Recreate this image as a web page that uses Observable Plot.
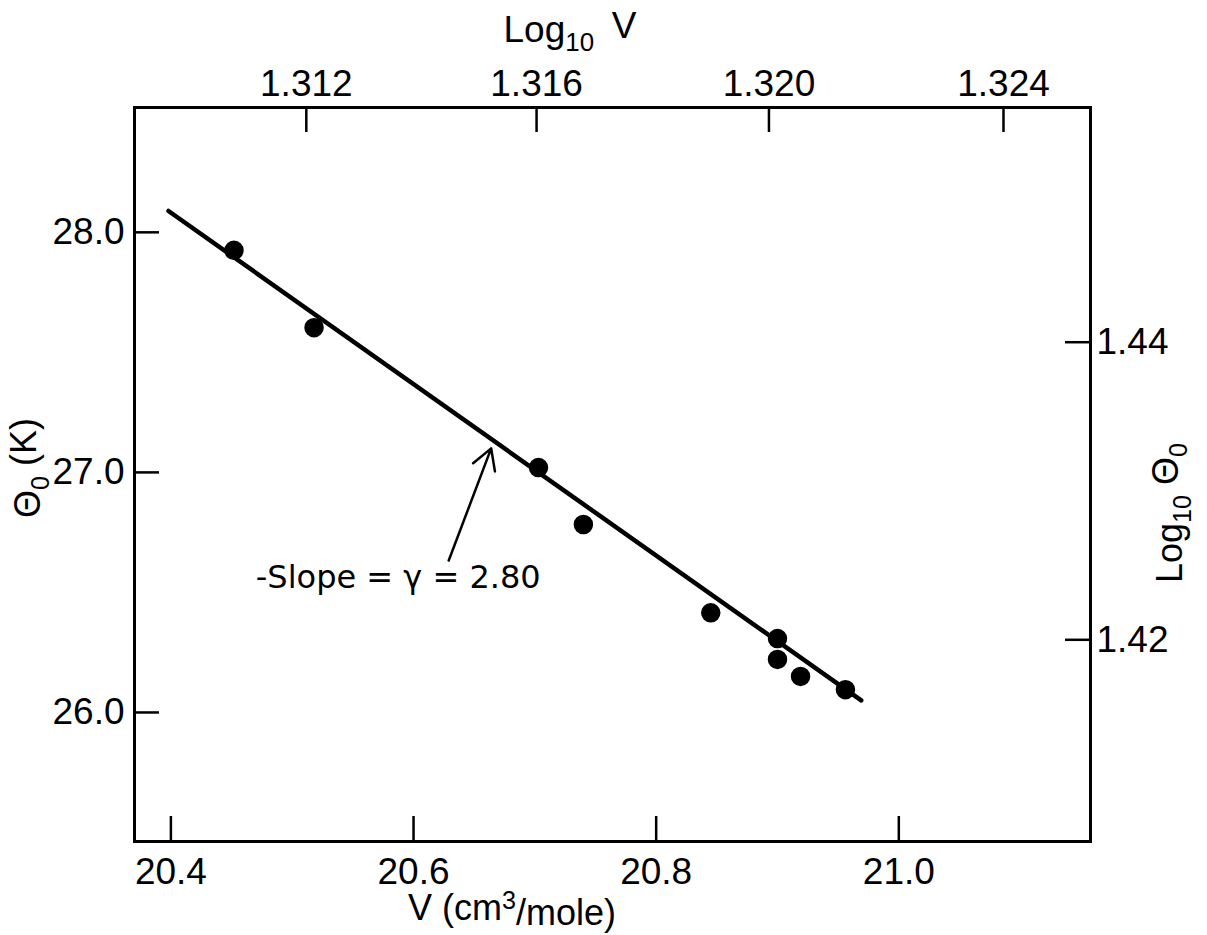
<!DOCTYPE html>
<html>
<head>
<meta charset="utf-8">
<script src="https://cdn.jsdelivr.net/npm/d3@7"></script>
<script src="https://cdn.jsdelivr.net/npm/@observablehq/plot@0.6"></script>
<style>
  html, body { margin: 0; padding: 0; background: white; }
  #chart svg { display: block; }
</style>
</head>
<body>
<div id="chart"></div>
<script>
// Measured points: molar volume V (cm^3/mole) and Debye temperature Θ0 (K)
const volume = [20.452, 20.518, 20.703, 20.740, 20.845, 20.900, 20.900, 20.919, 20.956];
const theta0 = [27.925, 27.603, 27.020, 26.783, 26.415, 26.308, 26.221, 26.150, 26.095];

// Fitted straight line (end points)
const fitVolume = [20.398, 20.969];
const fitTheta0 = [28.089, 26.050];

// Axis ticks
const xTicks = [20.4, 20.6, 20.8, 21.0];
const yTicks = [26.0, 27.0, 28.0];
const logVTicks = [1.312, 1.316, 1.320, 1.324];
const logThetaTicks = [1.42, 1.44];

// Annotation
const annotationText = ["-Slope = \u03b3 = 2.80"];
const annotationAt = [20.470, 26.56];
const arrowFrom = [20.629, 26.633];
const arrowTo = [20.664, 27.10];

const W = 1207, H = 935;
const mL = 134, mR = 117, mT = 107, mB = 94;
const frameW = W - mL - mR, frameH = H - mT - mB;
const tickLen = 25;
const font = "'Liberation Sans', 'DejaVu Sans', sans-serif";
const annFont = "'DejaVu Sans', 'Liberation Sans', sans-serif";

const points = volume.map((v, i) => ({v, t: theta0[i]}));
const fit = fitVolume.map((v, i) => ({v, t: fitTheta0[i]}));

const chart = Plot.plot({
  width: W,
  height: H,
  marginLeft: mL,
  marginRight: mR,
  marginTop: mT,
  marginBottom: mB,
  style: {fontFamily: font, color: "black", background: "white", overflow: "visible"},
  x: {domain: [20.370, 21.158], label: null},
  y: {domain: [25.4625, 28.52], label: null},
  marks: [
    // inward ticks
    Plot.tickX(xTicks, {x: d => d, insetTop: frameH - tickLen, stroke: "black", strokeWidth: 2.5}),
    Plot.tickX(logVTicks.map(t => Math.pow(10, t)), {x: d => d, insetBottom: frameH - tickLen, stroke: "black", strokeWidth: 2.5}),
    Plot.tickY(yTicks, {y: d => d, insetRight: frameW - tickLen, stroke: "black", strokeWidth: 2.5}),
    Plot.tickY(logThetaTicks.map(t => Math.pow(10, t)), {y: d => d, insetLeft: frameW - tickLen, stroke: "black", strokeWidth: 2.5}),
    // axis labels
    Plot.axisX(xTicks, {anchor: "bottom", tickSize: 0, tickPadding: 16, tickFormat: d3.format(".1f"), fontSize: 37, fill: "black"}),
    Plot.axisX(logVTicks.map(t => Math.pow(10, t)), {anchor: "top", tickSize: 0, tickPadding: 12, tickFormat: d => d3.format(".3f")(Math.log10(d)), fontSize: 37, fill: "black"}),
    Plot.axisY(yTicks, {anchor: "left", tickSize: 0, tickPadding: 10, tickFormat: d3.format(".1f"), fontSize: 37, fill: "black"}),
    Plot.axisY(logThetaTicks.map(t => Math.pow(10, t)), {anchor: "right", tickSize: 0, tickPadding: 6, tickFormat: d => d3.format(".2f")(Math.log10(d)), fontSize: 37, fill: "black"}),
    Plot.frame({stroke: "black", strokeWidth: 3}),
    // fit line
    Plot.line(fit, {x: "v", y: "t", stroke: "black", strokeWidth: 4.5, strokeLinecap: "round"}),
    // data points
    Plot.dot(points, {x: "v", y: "t", r: 9, fill: "black", stroke: "black"}),
    // annotation
    Plot.arrow([{x1: arrowFrom[0], y1: arrowFrom[1], x2: arrowTo[0], y2: arrowTo[1]}], {x1: "x1", y1: "y1", x2: "x2", y2: "y2", stroke: "black", strokeWidth: 2.5, headLength: 14, insetStart: 0, insetEnd: 0}),
    Plot.text(annotationText, {x: () => annotationAt[0], y: () => annotationAt[1], text: d => d, textAnchor: "start", fontSize: 32, fontFamily: annFont, fill: "black"})
  ]
});

document.getElementById("chart").appendChild(chart);

// Axis titles with sub/superscripts
const svg = d3.select(chart);
function title(x, y, rotate, parts, size) {
  const t = svg.append("text")
    .attr("transform", `translate(${x},${y}) rotate(${rotate})`)
    .attr("text-anchor", "middle")
    .attr("font-family", font)
    .attr("font-size", size)
    .attr("fill", "black");
  parts.forEach(p => {
    const s = t.append("tspan").text(p.text);
    if (p.dy) s.attr("dy", p.dy);
    if (p.size) s.attr("font-size", p.size);
  });
}
title(512, 920, 0, [
  {text: "V (cm"},
  {text: "3", dy: "-0.45em", size: "70%"},
  {text: "/mole)", dy: "0.45em"}
], 36);
title(570, 42, 0, [
  {text: "Log"},
  {text: "10", dy: "0.35em", size: "70%"},
  {text: "\u2009 V", dy: "-0.35em"}
], 37);
title(40, 468, -90, [
  {text: "\u0398"},
  {text: "0", dy: "0.35em", size: "70%"},
  {text: " (K)", dy: "-0.35em"}
], 36);
title(1182, 513, -90, [
  {text: "Log"},
  {text: "10", dy: "0.35em", size: "70%"},
  {text: " \u0398", dy: "-0.35em"},
  {text: "0", dy: "0.35em", size: "70%"}
], 36);
</script>
</body>
</html>
